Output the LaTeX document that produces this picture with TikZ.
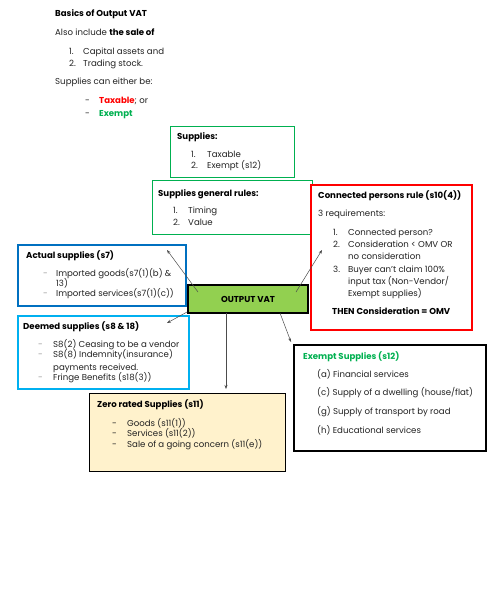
\documentclass[tikz,border=0pt]{standalone}
\usepackage{fontspec}
\setmainfont{Poppins}
\usetikzlibrary{arrows.meta}
\definecolor{vgreen}{HTML}{00B050}
\definecolor{vred}{HTML}{FF0000}
\definecolor{vdblue}{HTML}{0070C0}
\definecolor{vlblue}{HTML}{00B0F0}
\definecolor{vlime}{HTML}{92D050}
\definecolor{vcream}{HTML}{FFF2CC}
\definecolor{vtext}{HTML}{222222}
\tikzset{
  box/.style={rectangle, anchor=north west, inner sep=0pt},
  txt/.style={anchor=base west, inner sep=0pt, font=\fontsize{8.6}{9}\selectfont, text=vtext},
  ttl/.style={txt, font=\fontsize{8.6}{9}\selectfont\bfseries, text=black},
  arr/.style={draw=black!70, line width=0.5pt, -{Stealth[length=4pt,width=3pt]}},
}
\begin{document}
\begin{tikzpicture}[x=1pt,y=-1pt]
\useasboundingbox (0,0) rectangle (488,592);
% top text
\node[ttl] (t1) at (55,16) {Basics of Output VAT};
\node[txt] (t2) at (55,35) {Also include \textcolor{black}{\bfseries the sale of}};
\node[txt] (t3n) at (69,54) {1.};
\node[txt] (t3) at (83,54) {Capital assets and};
\node[txt] (t4n) at (69,66) {2.};
\node[txt] (t4) at (83,66) {Trading stock.};
\node[txt] (t5) at (55,84) {Supplies can either be:};
\node[txt] (t6n) at (85,103) {-};
\node[txt] (t6) at (99,103) {\textcolor{vred}{\bfseries Taxable}; or};
\node[txt] (t7n) at (85,116) {-};
\node[txt, text=vgreen] (t7) at (99,116) {\bfseries Exempt};
% Supplies box
\node[box, draw=vgreen, line width=1pt, minimum width=124pt, minimum height=51pt] (sup) at (170,126) {};
\node[ttl] at (177,139) {Supplies:};
\node[txt] at (191,157) {1.};
\node[txt] at (207,157) {Taxable};
\node[txt] at (191,168) {2.};
\node[txt] at (207,168) {Exempt (s12)};
% general rules
\node[box, draw=vgreen, line width=1pt, minimum width=160pt, minimum height=54pt] (gen) at (152,180) {};
\node[ttl] at (158,196) {Supplies general rules:};
\node[txt] at (173,213) {1.};
\node[txt] at (188,213) {Timing};
\node[txt] at (173,225) {2.};
\node[txt] at (188,225) {Value};
% connected persons
\node[box, draw=vred, line width=2pt, fill=white, minimum width=161pt, minimum height=145pt] (con) at (310,184) {};
\node[ttl] at (318,198) {Connected persons rule (s10(4))};
\node[txt] at (318,216) {3 requirements:};
\node[txt] at (333,235) {1.};
\node[txt] at (348,235) {Connected person?};
\node[txt] at (333,247) {2.};
\node[txt] at (348,247) {Consideration < OMV OR};
\node[txt] at (348,259) {no consideration};
\node[txt] at (333,272) {3.};
\node[txt] at (348,272) {Buyer can't claim 100\%};
\node[txt] at (348,284) {input tax (Non-Vendor/};
\node[txt] at (348,296) {Exempt supplies)};
\node[ttl] at (332,314) {THEN Consideration = OMV};
% actual supplies
\node[box, draw=vdblue, line width=2pt, minimum width=168pt, minimum height=61pt] (act) at (17,244) {};
\node[ttl] at (26,258) {Actual supplies (s7)};
\node[txt, text=black!40] at (43,276) {-};
\node[txt] at (56,276) {Imported goods(s7(1)(b) \&};
\node[txt] at (56,286) {13)};
\node[txt, text=black!40] at (43,296) {-};
\node[txt] at (56,296) {Imported services(s7(1)(c))};
% deemed supplies
\node[box, draw=vlblue, line width=2pt, minimum width=171pt, minimum height=73pt] (dee) at (17,315) {};
\node[ttl] at (23,329) {Deemed supplies (s8 \& 18)};
\node[txt, text=black!40] at (38,347) {-};
\node[txt] at (53,347) {S8(2) Ceasing to be a vendor};
\node[txt, text=black!40] at (38,357) {-};
\node[txt] at (53,357) {S8(8) Indemnity(insurance)};
\node[txt] at (53,370) {payments received.};
\node[txt, text=black!40] at (38,380) {-};
\node[txt] at (53,380) {Fringe Benefits (s18(3))};
% exempt supplies
\node[box, draw=black, line width=2pt, minimum width=192pt, minimum height=106pt] (exe) at (293,344) {};
\node[ttl, text=vgreen] at (303,359) {Exempt Supplies (s12)};
\node[txt] at (317,377) {(a) Financial services};
\node[txt] at (317,395) {(c) Supply of a dwelling (house/flat)};
\node[txt] at (317,414) {(g) Supply of transport by road};
\node[txt] at (317,433) {(h) Educational services};
% zero rated
\node[box, draw=black, line width=1.2pt, fill=vcream, minimum width=196pt, minimum height=78pt] (zer) at (89,393) {};
\node[ttl] at (97,407) {Zero rated Supplies (s11)};
\node[txt] at (112,426) {-};
\node[txt] at (127,426) {Goods (s11(1))};
\node[txt] at (112,436) {-};
\node[txt] at (127,436) {Services (s11(2))};
\node[txt] at (112,447) {-};
\node[txt] at (127,447) {Sale of a going concern (s11(e))};
% output VAT
\node[box, draw=black, line width=2pt, fill=vlime, minimum width=120pt, minimum height=28pt] (ov) at (187,284) {};
\node[ttl, anchor=center] (ovt) at (ov.center) {OUTPUT VAT};
% connector end points
\coordinate (a1) at (198,292);
\coordinate (a2) at (296,292);
\coordinate (a3) at (187,312);
\coordinate (a4) at (226,313);
\coordinate (a5) at (280,313);
\coordinate (e1) at (167,250);
\coordinate (e2) at (322,250);
\coordinate (e3) at (167,323);
\coordinate (e4) at (226,389);
\coordinate (e5) at (291,342);
\draw[arr] (a1) -- (e1);
\draw[arr] (a2) -- (e2);
\draw[arr] (a3) -- (e3);
\draw[arr] (a4) -- (e4);
\draw[arr] (a5) -- (e5);
\end{tikzpicture}
\end{document}
